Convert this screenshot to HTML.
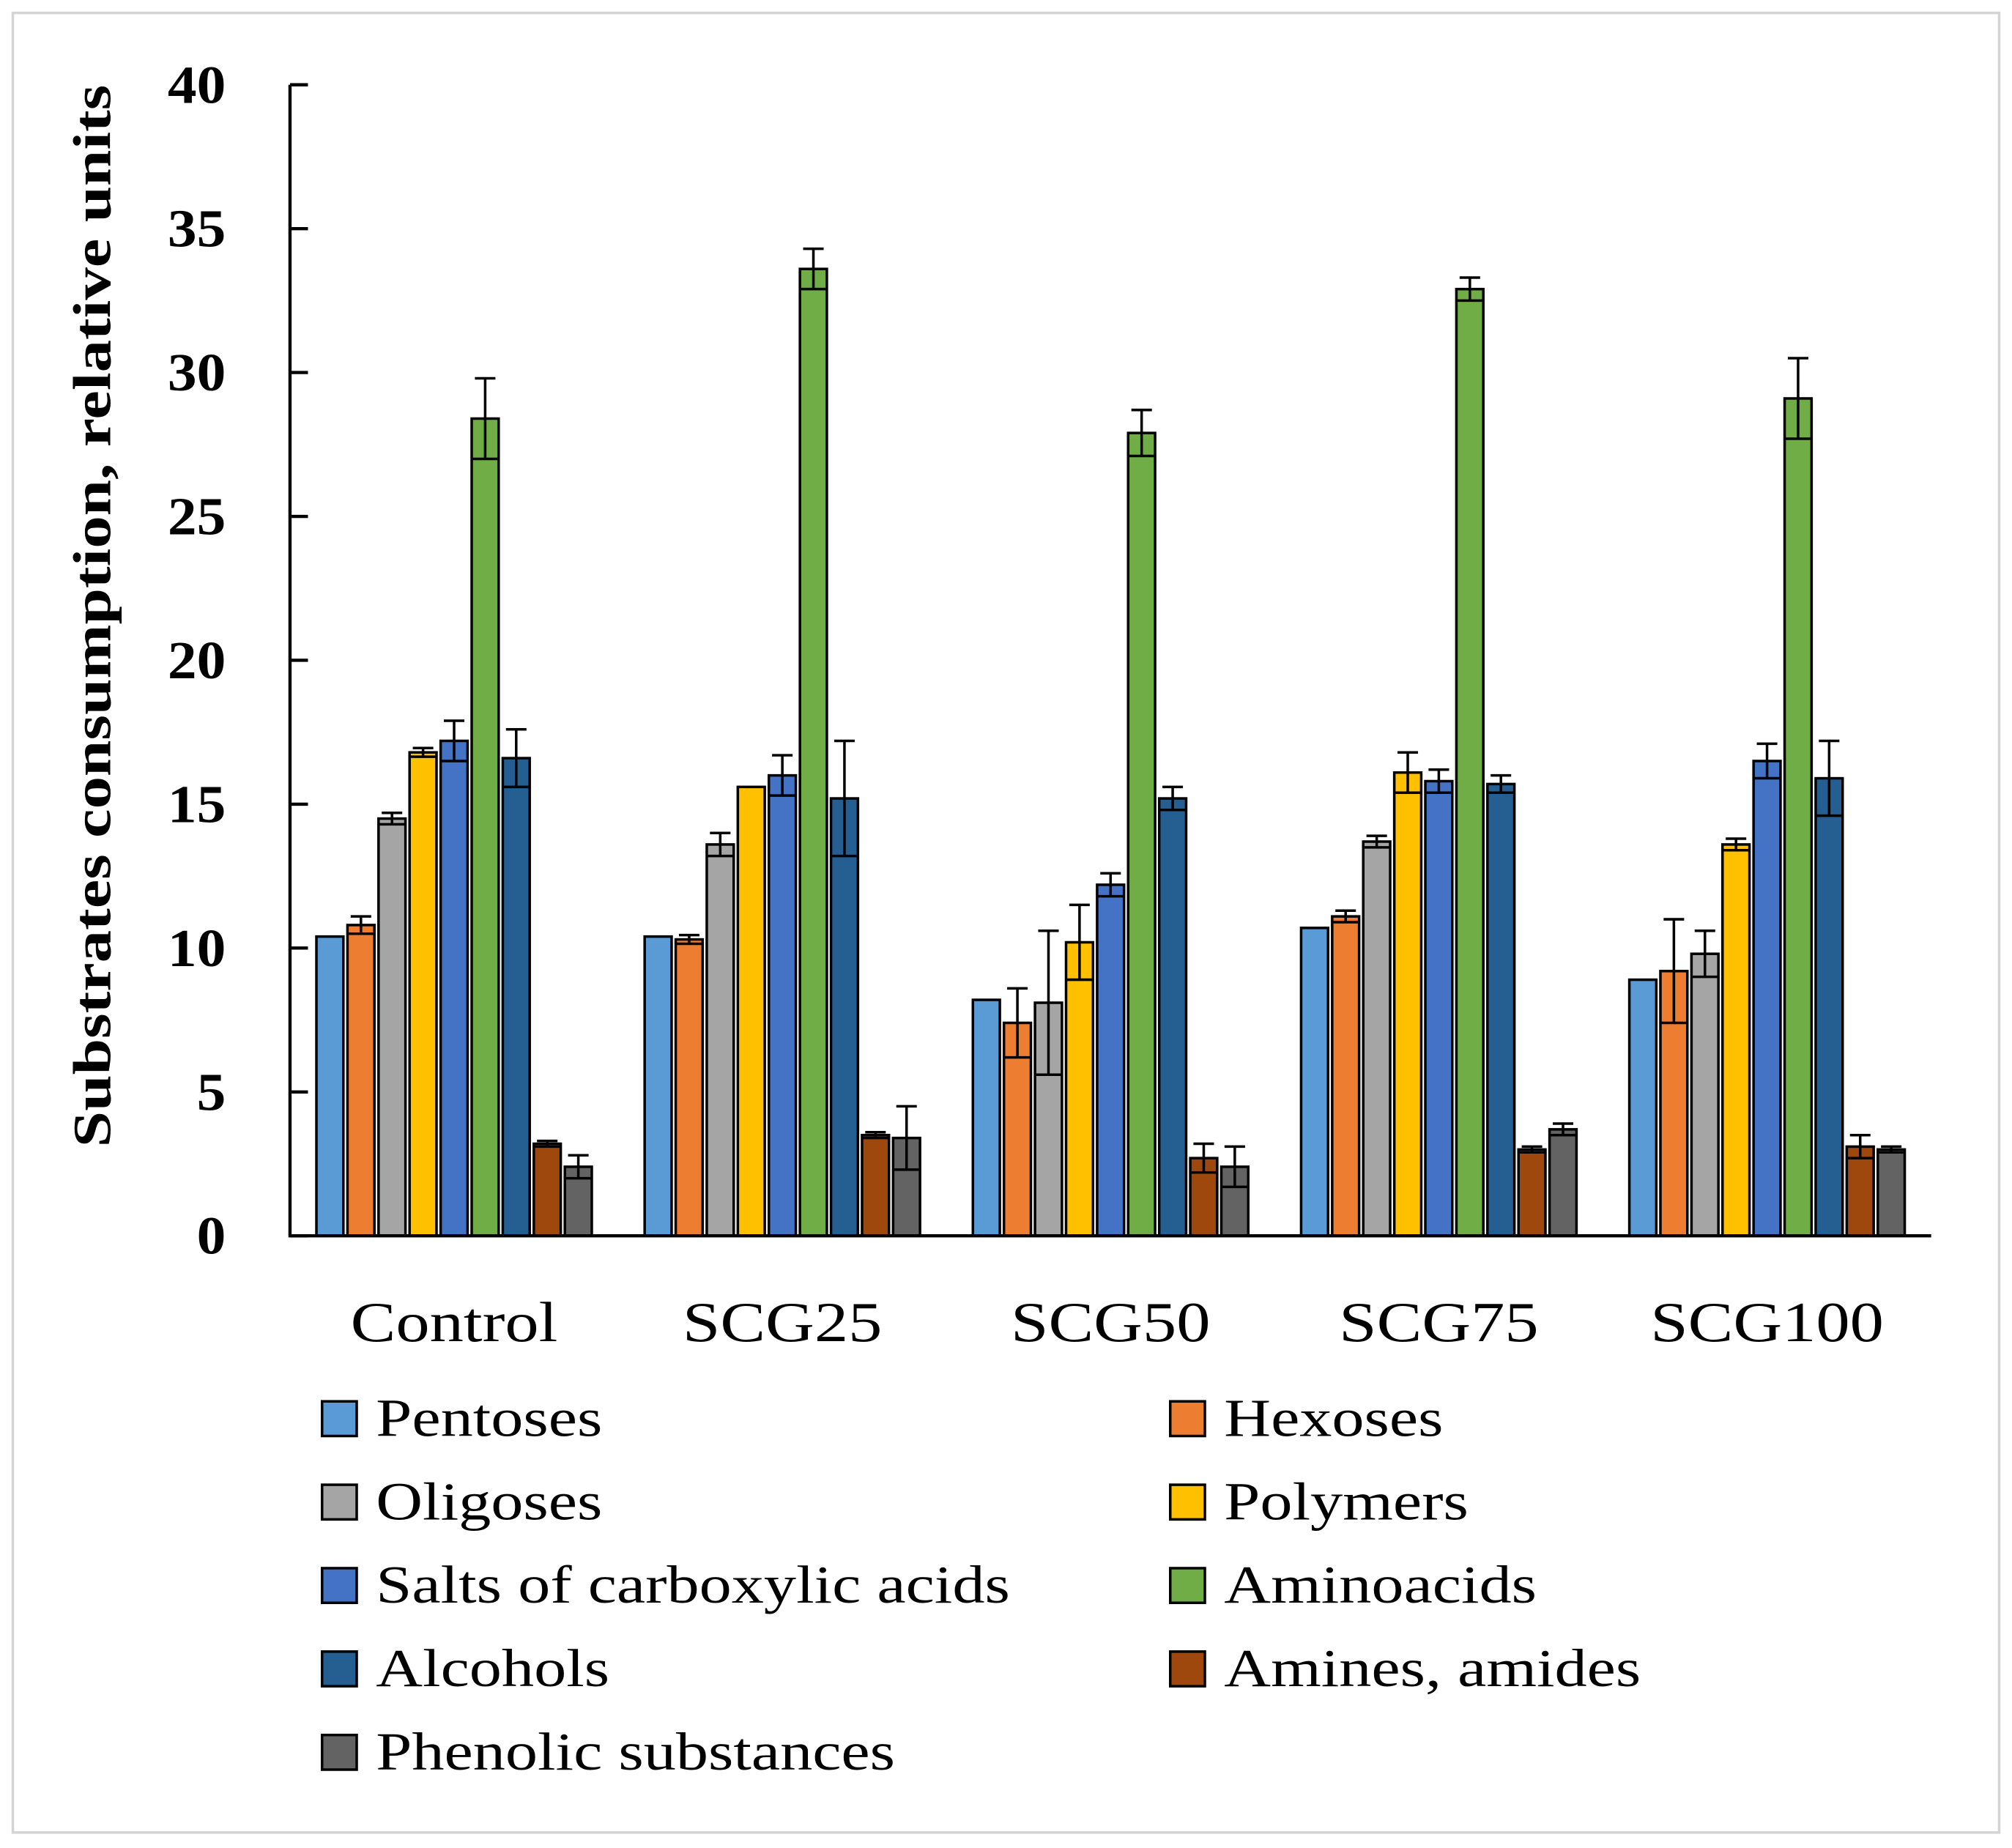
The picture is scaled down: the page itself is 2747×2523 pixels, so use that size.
<!DOCTYPE html>
<html><head><meta charset="utf-8"><style>
html,body{margin:0;padding:0;background:#fff;}
svg{display:block;}
text{font-family:"Liberation Serif",serif;}
</style></head><body>
<svg id="chart" width="2747" height="2523" viewBox="0 0 1568 1440" xmlns="http://www.w3.org/2000/svg">
<rect x="10" y="10" width="1548" height="1418" fill="#fff" stroke="#d4d4d4" stroke-width="2"/>
<g id="plot"></g>
<text transform="translate(86,480) rotate(-90)" text-anchor="middle" font-size="42" font-weight="bold" textLength="828" lengthAdjust="spacingAndGlyphs">Substrates consumption, relative units</text>
<g id="legend"></g>
</svg>
<script>
const categories = ["Control","SCG25","SCG50","SCG75","SCG100"];
const seriesNames = ["Pentoses","Hexoses","Oligoses","Polymers","Salts of carboxylic acids","Aminoacids","Alcohols","Amines, amides","Phenolic substances"];
const pentoses = [10.4,10.4,8.2,10.7,8.9];
const hexoses = [10.8,10.3,7.4,11.1,9.2];
const oligoses = [14.5,13.6,8.1,13.7,9.8];
const polymers = [16.8,15.6,10.2,16.1,13.6];
const salts = [17.2,16.0,12.2,15.8,16.5];
const aminoacids = [28.4,33.6,27.9,32.9,29.1];
const alcohols = [16.6,15.2,15.2,15.7,15.9];
const amines = [3.2,3.5,2.7,3.0,3.1];
const phenolic = [2.4,3.4,2.4,3.7,3.0];
const errPentoses = [0,0,0,0,0];
const errHexoses = [0.3,0.15,1.2,0.2,1.8];
const errOligoses = [0.2,0.4,2.5,0.2,0.8];
const errPolymers = [0.15,0,1.3,0.7,0.2];
const errSalts = [0.7,0.7,0.4,0.4,0.6];
const errAminoacids = [1.4,0.7,0.8,0.4,1.4];
const errAlcohols = [1.0,2.0,0.4,0.3,1.3];
const errAmines = [0.1,0.1,0.5,0.1,0.4];
const errPhenolic = [0.4,1.1,0.7,0.2,0.1];
const yTicks = [0,5,10,15,20,25,30,35,40];
const colors = ["#5b9bd5","#ed7d31","#a5a5a5","#ffc000","#4472c4","#70ad47","#255e91","#9e480e","#636363"];

const values = [pentoses,hexoses,oligoses,polymers,salts,aminoacids,alcohols,amines,phenolic];
const errs = [errPentoses,errHexoses,errOligoses,errPolymers,errSalts,errAminoacids,errAlcohols,errAmines,errPhenolic];
const NS="http://www.w3.org/2000/svg";
const plot=document.getElementById('plot');
const X0=226, X1=1505, Y0=963, Y40=66;
const y = v => Y0 - (v/40)*(Y0-Y40);
const groupW=(X1-X0)/categories.length;
const barW=24.2;
const xBar=(g,s)=> X0 + g*groupW + (groupW - barW*9)/2 + s*barW;
function mk(tag,attrs){const e=document.createElementNS(NS,tag);for(const k in attrs)e.setAttribute(k,attrs[k]);return e;}
const canvas=document.createElement('canvas').getContext('2d');
function widthOf(txt,size,bold){canvas.font=(bold?'bold ':'')+size+'px "Liberation Serif", serif';return canvas.measureText(txt).width;}
const WIDEN=1.2;

for(let g=0;g<categories.length;g++){
  for(let s=0;s<9;s++){
    const v=values[s][g], e=errs[s][g];
    const x=xBar(g,s);
    const r=mk('rect',{x:x+1.6,y:y(v),width:barW-3.2,height:Y0-y(v),fill:colors[s],stroke:'#000','stroke-width':2});
    
    
    plot.appendChild(r);
    if(e>0){
      const cx=x+barW/2;
      const l=mk('path',{d:`M${cx},${y(v-e)}V${y(v+e)}M${cx-8},${y(v+e)}H${cx+8}M${x+1.6},${y(v-e)}H${x+barW-1.6}`,stroke:'#000','stroke-width':2,fill:'none'});
      
      
      plot.appendChild(l);
    }
  }
  const t=mk('text',{x:X0+g*groupW+groupW/2,y:1045,'text-anchor':'middle','font-size':44,textLength:widthOf(categories[g],44)*WIDEN,lengthAdjust:'spacingAndGlyphs'});
  t.textContent=categories[g];
  
  
  plot.appendChild(t);
}
const ax=mk('path',{d:`M${X0},${Y40}V${Y0}H${X1}`,stroke:'#000','stroke-width':2.5,fill:'none'});


plot.appendChild(ax);
for(const v of yTicks){
  const tk=mk('line',{x1:X0,x2:X0+14,y1:y(v),y2:y(v),stroke:'#000','stroke-width':2.5});
  
  
  plot.appendChild(tk);
  const t=mk('text',{x:176,y:y(v)+14,'text-anchor':'end','font-size':42,'font-weight':'bold',textLength:widthOf(String(v),42,true)*1.08,lengthAdjust:'spacingAndGlyphs'});
  t.textContent=v;
  
  
  plot.appendChild(t);
}
const leg=document.getElementById('legend');
for(let s=0;s<9;s++){
  const col=s%2, row=Math.floor(s/2);
  const sx=col?912:251, cy=1105+row*65;
  const r=mk('rect',{x:sx,y:cy-13,width:27,height:27,fill:colors[s],stroke:'#000','stroke-width':2});
  
  
  leg.appendChild(r);
  const t=mk('text',{x:sx+42,y:cy+14,'font-size':42,textLength:widthOf(seriesNames[s],42)*WIDEN,lengthAdjust:'spacingAndGlyphs'});
  t.textContent=seriesNames[s];
  
  
  leg.appendChild(t);
}
</script>
</body></html>
